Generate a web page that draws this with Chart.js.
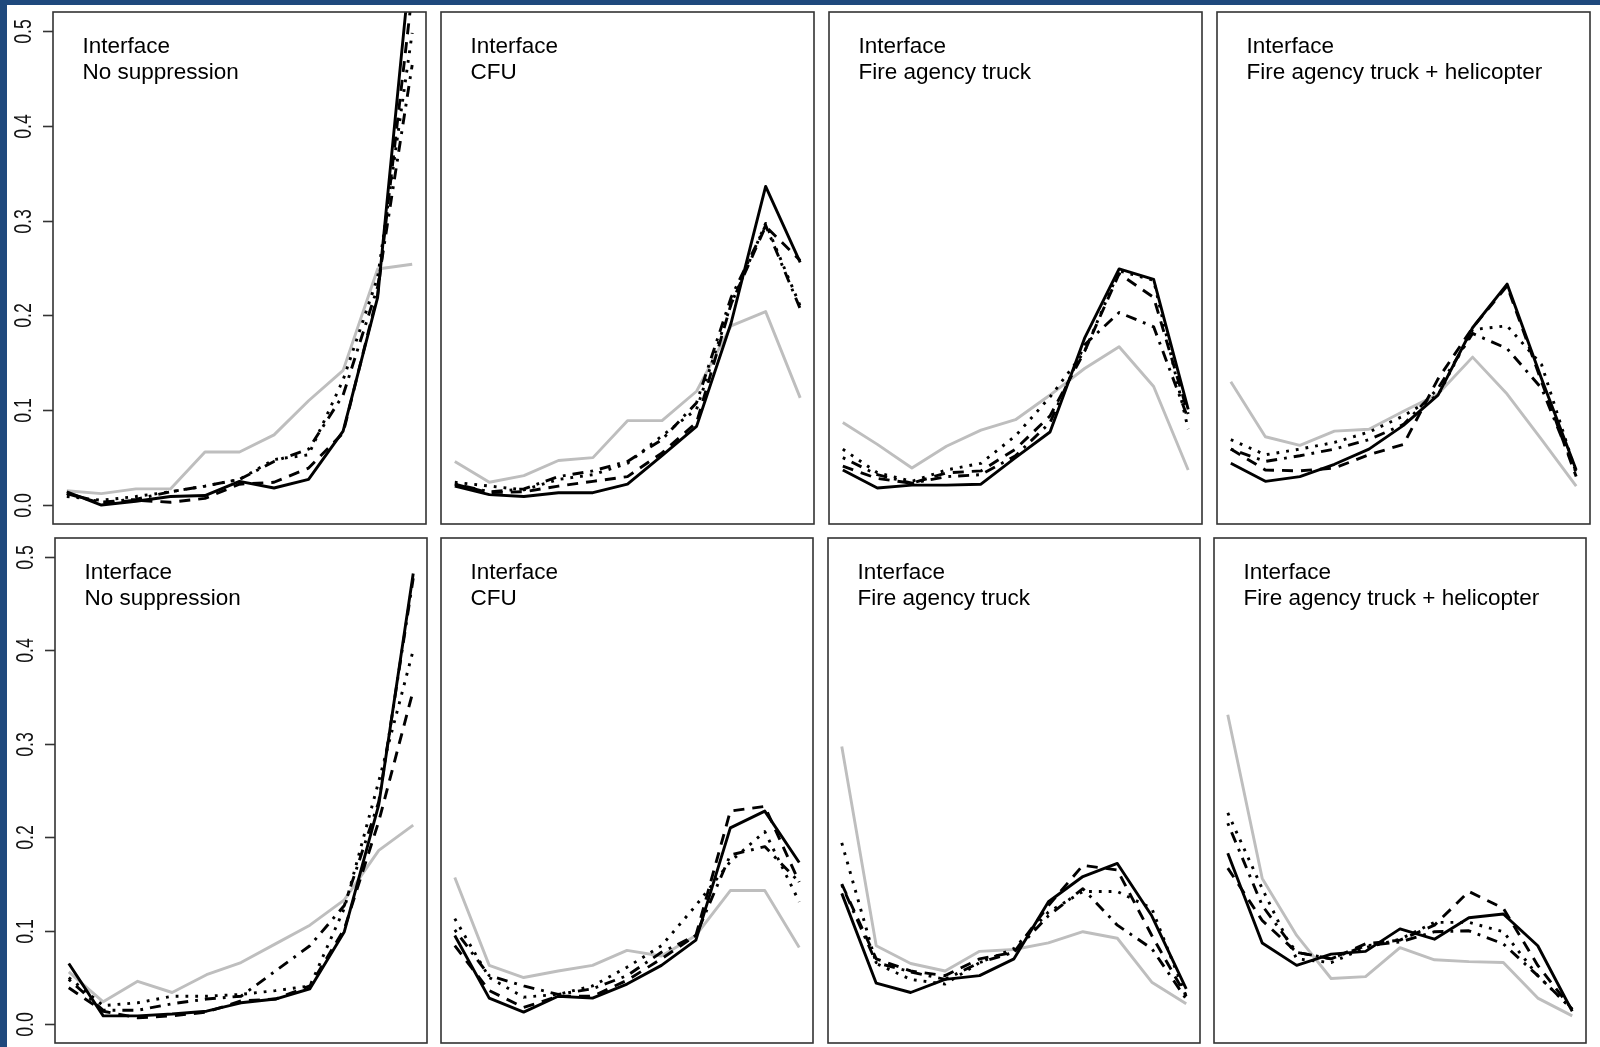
<!DOCTYPE html>
<html>
<head>
<meta charset="utf-8">
<script src="https://cdn.jsdelivr.net/npm/chart.js@4.4.1/dist/chart.umd.min.js"></script>
<style>
  html, body { margin: 0; padding: 0; background: #fff; }
  body { width: 1600px; height: 1047px; position: relative; overflow: hidden; }
  .bar-top { position: absolute; left: 0; top: 0; width: 1600px; height: 5px; background: #1f497d; }
  .bar-left { position: absolute; left: 0; top: 0; width: 7px; height: 1047px; background: #1f497d; }
  canvas { position: absolute; }
</style>
</head>
<body>
<div class="bar-top"></div>
<div class="bar-left"></div>
<script>
// x positions (size classes) and y axis ticks
const sizeClasses = [1, 2, 3, 4, 5, 6, 7, 8, 9, 10, 11];
const yTicks = [0, 0.1, 0.2, 0.3, 0.4, 0.5];
const yTickLabels = ['0.0', '0.1', '0.2', '0.3', '0.4', '0.5'];
const headLine = 'Interface';
const suppressionNames = ['No suppression', 'CFU', 'Fire agency truck', 'Fire agency truck + helicopter'];

// top row
const topNoneGrey    = [0.015, 0.012, 0.017, 0.017, 0.056, 0.056, 0.074, 0.110, 0.142, 0.249, 0.254];
const topNoneSolid   = [0.014, 0.000, 0.004, 0.009, 0.010, 0.025, 0.018, 0.027, 0.078, 0.219, 0.590];
const topNoneDashed  = [0.012, 0.002, 0.005, 0.003, 0.007, 0.022, 0.024, 0.039, 0.076, 0.222, 0.540];
const topNoneDotted  = [0.009, 0.005, 0.009, 0.014, 0.020, 0.027, 0.048, 0.053, 0.132, 0.240, 0.498];
const topNoneDotdash = [0.012, 0.003, 0.006, 0.014, 0.020, 0.027, 0.046, 0.059, 0.116, 0.230, 0.464];

const topCfuGrey    = [0.046, 0.024, 0.031, 0.047, 0.050, 0.089, 0.089, 0.120, 0.189, 0.204, 0.113];
const topCfuSolid   = [0.020, 0.011, 0.009, 0.013, 0.013, 0.022, 0.052, 0.083, 0.192, 0.336, 0.256];
const topCfuDashed  = [0.022, 0.013, 0.014, 0.020, 0.025, 0.030, 0.055, 0.087, 0.212, 0.294, 0.258];
const topCfuDotted  = [0.024, 0.020, 0.016, 0.027, 0.032, 0.044, 0.073, 0.101, 0.212, 0.297, 0.210];
const topCfuDotdash = [0.022, 0.014, 0.017, 0.030, 0.036, 0.046, 0.069, 0.108, 0.219, 0.295, 0.207];

const topTruckGrey    = [0.087, 0.064, 0.039, 0.062, 0.079, 0.090, 0.116, 0.144, 0.167, 0.125, 0.037];
const topTruckSolid   = [0.037, 0.018, 0.021, 0.021, 0.022, 0.050, 0.077, 0.176, 0.249, 0.238, 0.101];
const topTruckDashed  = [0.041, 0.028, 0.023, 0.034, 0.036, 0.059, 0.094, 0.162, 0.244, 0.219, 0.096];
const topTruckDotted  = [0.059, 0.034, 0.025, 0.037, 0.044, 0.073, 0.114, 0.162, 0.247, 0.237, 0.080];
const topTruckDotdash = [0.050, 0.032, 0.023, 0.030, 0.032, 0.052, 0.087, 0.169, 0.203, 0.188, 0.091];

const topHeliGrey    = [0.130, 0.072, 0.063, 0.078, 0.080, 0.099, 0.117, 0.156, 0.117, 0.069, 0.020];
const topHeliSolid   = [0.044, 0.025, 0.030, 0.043, 0.059, 0.084, 0.116, 0.187, 0.233, 0.133, 0.037];
const topHeliDashed  = [0.059, 0.037, 0.036, 0.039, 0.053, 0.064, 0.133, 0.187, 0.231, 0.130, 0.030];
const topHeliDotted  = [0.069, 0.053, 0.059, 0.066, 0.077, 0.094, 0.116, 0.185, 0.189, 0.148, 0.034];
const topHeliDotdash = [0.059, 0.046, 0.052, 0.059, 0.069, 0.085, 0.123, 0.181, 0.165, 0.123, 0.034];

// bottom row
const botNoneGrey    = [0.056, 0.024, 0.046, 0.034, 0.053, 0.066, 0.086, 0.106, 0.133, 0.186, 0.213];
const botNoneSolid   = [0.065, 0.009, 0.009, 0.011, 0.014, 0.023, 0.027, 0.038, 0.099, 0.235, 0.482];
const botNoneDashed  = [0.039, 0.014, 0.007, 0.009, 0.013, 0.025, 0.027, 0.041, 0.102, 0.217, 0.357];
const botNoneDotted  = [0.050, 0.020, 0.023, 0.030, 0.030, 0.032, 0.036, 0.041, 0.124, 0.260, 0.400];
const botNoneDotdash = [0.048, 0.015, 0.015, 0.022, 0.027, 0.030, 0.057, 0.084, 0.127, 0.238, 0.477];

const botCfuGrey    = [0.157, 0.063, 0.050, 0.057, 0.063, 0.079, 0.073, 0.095, 0.143, 0.143, 0.082];
const botCfuSolid   = [0.095, 0.028, 0.013, 0.030, 0.028, 0.043, 0.063, 0.090, 0.210, 0.228, 0.173];
const botCfuDashed  = [0.084, 0.036, 0.018, 0.030, 0.030, 0.047, 0.070, 0.095, 0.228, 0.233, 0.152];
const botCfuDotted  = [0.113, 0.050, 0.029, 0.032, 0.041, 0.061, 0.084, 0.127, 0.174, 0.206, 0.131];
const botCfuDotdash = [0.101, 0.052, 0.041, 0.032, 0.038, 0.052, 0.077, 0.095, 0.181, 0.190, 0.152];

const botTruckGrey    = [0.297, 0.084, 0.065, 0.057, 0.078, 0.080, 0.087, 0.099, 0.092, 0.045, 0.022];
const botTruckSolid   = [0.140, 0.044, 0.034, 0.048, 0.052, 0.070, 0.131, 0.158, 0.172, 0.116, 0.038];
const botTruckDashed  = [0.150, 0.070, 0.057, 0.052, 0.070, 0.077, 0.127, 0.170, 0.165, 0.095, 0.030];
const botTruckDotted  = [0.194, 0.065, 0.048, 0.043, 0.066, 0.081, 0.120, 0.142, 0.142, 0.124, 0.030];
const botTruckDotdash = [0.149, 0.066, 0.056, 0.048, 0.066, 0.077, 0.116, 0.145, 0.106, 0.081, 0.027];

const botHeliGrey    = [0.331, 0.156, 0.095, 0.049, 0.051, 0.082, 0.069, 0.067, 0.066, 0.028, 0.009];
const botHeliSolid   = [0.183, 0.087, 0.063, 0.075, 0.078, 0.102, 0.091, 0.114, 0.118, 0.084, 0.014];
const botHeliDashed  = [0.167, 0.111, 0.077, 0.070, 0.086, 0.090, 0.106, 0.142, 0.124, 0.063, 0.016];
const botHeliDotted  = [0.226, 0.145, 0.070, 0.066, 0.082, 0.091, 0.109, 0.109, 0.099, 0.052, 0.016];
const botHeliDotdash = [0.215, 0.127, 0.077, 0.070, 0.084, 0.088, 0.099, 0.100, 0.086, 0.052, 0.016];

// series order: first is drawn on top, grey goes underneath
const panelSeries = [
  [topNoneSolid, topNoneDashed, topNoneDotted, topNoneDotdash, topNoneGrey],
  [topCfuSolid, topCfuDashed, topCfuDotted, topCfuDotdash, topCfuGrey],
  [topTruckSolid, topTruckDashed, topTruckDotted, topTruckDotdash, topTruckGrey],
  [topHeliSolid, topHeliDashed, topHeliDotted, topHeliDotdash, topHeliGrey],
  [botNoneSolid, botNoneDashed, botNoneDotted, botNoneDotdash, botNoneGrey],
  [botCfuSolid, botCfuDashed, botCfuDotted, botCfuDotdash, botCfuGrey],
  [botTruckSolid, botTruckDashed, botTruckDotted, botTruckDotdash, botTruckGrey],
  [botHeliSolid, botHeliDashed, botHeliDotted, botHeliDotdash, botHeliGrey]
];

const lineStyles = [
  { color: '#000000', dash: [] },
  { color: '#000000', dash: [11, 8] },
  { color: '#000000', dash: [2.8, 7] },
  { color: '#000000', dash: [2.8, 7, 11, 7] },
  { color: '#bebebe', dash: [] }
];

// plot box placement
const rowTop = [12, 538];
const rowHeight = [512, 505];
const colLeft = [[53, 441, 829, 1217], [55, 441, 828, 1214]];
const boxWidth = [373, 372];
const margin = 3;

const panelDecor = {
  id: 'panelDecor',
  afterDraw(chart, args, opts) {
    const ctx = chart.ctx;
    const area = chart.chartArea;
    const yScale = chart.scales.y;
    ctx.save();

    // frame
    ctx.strokeStyle = '#333333';
    ctx.lineWidth = 1.6;
    ctx.strokeRect(area.left, area.top, area.right - area.left, area.bottom - area.top);

    // two-line heading
    ctx.fillStyle = '#000';
    ctx.font = '22.5px "Liberation Sans", Arial, sans-serif';
    ctx.textAlign = 'left';
    ctx.textBaseline = 'alphabetic';
    ctx.fillText(headLine, area.left + 29.5, area.top + 41);
    ctx.fillText(opts.subtitle, area.left + 29.5, area.top + 66.5);

    // y axis on the left column only
    if (opts.showAxis) {
      ctx.strokeStyle = '#333333';
      ctx.lineWidth = 1.6;
      ctx.fillStyle = '#111';
      ctx.font = '23px "Liberation Sans", Arial, sans-serif';
      ctx.textAlign = 'center';
      yTicks.forEach((v, i) => {
        const y = Math.round(yScale.getPixelForValue(v)) + 0.5;
        ctx.beginPath();
        ctx.moveTo(area.left - 10, y);
        ctx.lineTo(area.left, y);
        ctx.stroke();
        ctx.save();
        ctx.translate(area.left - 22.5, y);
        ctx.rotate(-Math.PI / 2);
        ctx.scale(0.77, 1);
        ctx.fillText(yTickLabels[i], 0, 0);
        ctx.restore();
      });
    }
    ctx.restore();
  }
};

panelSeries.forEach((series, p) => {
  const row = Math.floor(p / 4);
  const col = p % 4;
  const left = colLeft[row][col];
  const padLeft = col === 0 ? left : margin;

  const canvas = document.createElement('canvas');
  canvas.width = padLeft + boxWidth[row] + margin;
  canvas.height = rowHeight[row] + 2 * margin;
  canvas.style.left = (left - padLeft) + 'px';
  canvas.style.top = (rowTop[row] - margin) + 'px';
  document.body.appendChild(canvas);

  new Chart(canvas, {
    type: 'line',
    data: {
      datasets: series.map((values, i) => ({
        data: values.map((v, j) => ({ x: sizeClasses[j], y: v })),
        borderColor: lineStyles[i].color,
        borderWidth: 2.9,
        borderDash: lineStyles[i].dash,
        borderCapStyle: 'butt',
        borderJoinStyle: 'round',
        pointRadius: 0,
        tension: 0,
        fill: false
      }))
    },
    options: {
      responsive: false,
      animation: false,
      devicePixelRatio: 1,
      events: [],
      layout: { padding: { left: padLeft, right: margin, top: margin, bottom: margin } },
      plugins: {
        legend: { display: false },
        tooltip: { enabled: false },
        panelDecor: { subtitle: suppressionNames[col], showAxis: col === 0 }
      },
      scales: {
        x: { type: 'linear', min: 0.6, max: 11.4, display: false },
        y: { type: 'linear', min: -0.02, max: 0.52, display: false }
      }
    },
    plugins: [panelDecor]
  });
});
</script>
</body>
</html>
